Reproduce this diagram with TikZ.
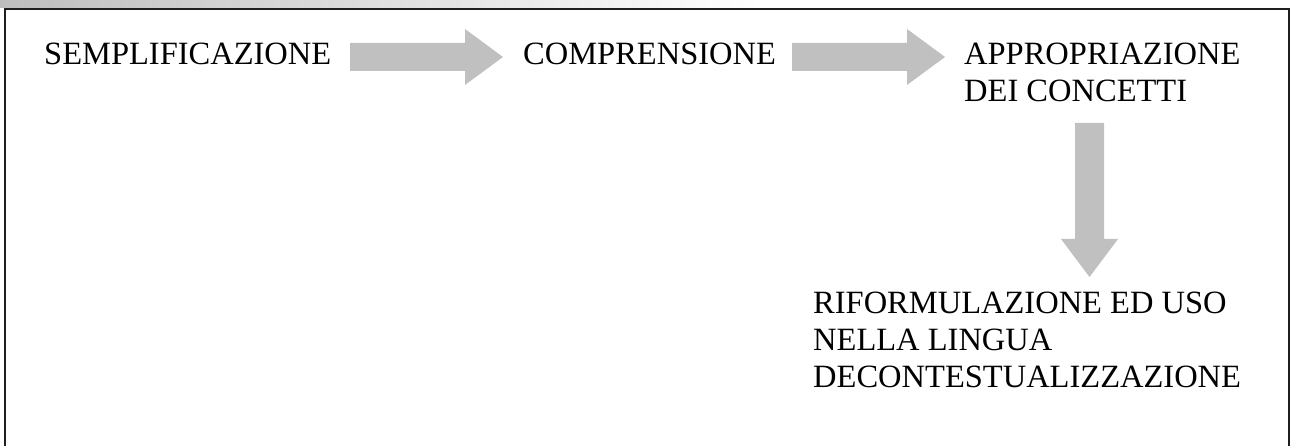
\documentclass[tikz,border=0pt]{standalone}
\usepackage{fontspec}
\setmainfont{Liberation Serif}
\definecolor{arrowgray}{HTML}{C0C0C0}
\definecolor{bandgray}{HTML}{BEBEBE}
\definecolor{framegray}{HTML}{1E1E1E}
\begin{document}
\begin{tikzpicture}[x=1pt,y=-1pt,
  lbl/.style={anchor=base west,inner sep=0pt,font=\fontsize{32.5}{37}\selectfont},
  blockarrow/.style={fill=arrowgray,draw=none}]
\useasboundingbox (0,0) rectangle (1292,446);
\clip (0,0) rectangle (1292,446);
\fill[white] (0,0) rectangle (1292,446);
\shade[left color=bandgray,right color=white] (0,0) rectangle (760,8);
\draw[line width=2pt,draw=framegray] (4.5,9) rectangle (1289,470);
% texts
\node[lbl] (semp) at (44,65) {SEMPLIFICAZIONE};
\node[lbl] (comp) at (523,65) {COMPRENSIONE};
\node[lbl] (appr1) at (964,65) {APPROPRIAZIONE};
\node[lbl] (appr2) at (964,102) {DEI CONCETTI};
\node[lbl] (rif1) at (813,313) {RIFORMULAZIONE ED USO};
\node[lbl] (rif2) at (813,350) {NELLA LINGUA};
\node[lbl] (rif3) at (813,387) {DECONTESTUALIZZAZIONE};
% block arrows
\fill[blockarrow] (350,43) -- (465,43) -- (465,29) -- (503,57) -- (465,85) -- (465,71) -- (350,71) -- cycle;
\fill[blockarrow] (792,43) -- (907,43) -- (907,29) -- (945,57) -- (907,85) -- (907,71) -- (792,71) -- cycle;
\fill[blockarrow] (1075,123) -- (1104,123) -- (1104,239) -- (1118,239) -- (1089.5,277) -- (1061,239) -- (1075,239) -- cycle;
\end{tikzpicture}
\end{document}
